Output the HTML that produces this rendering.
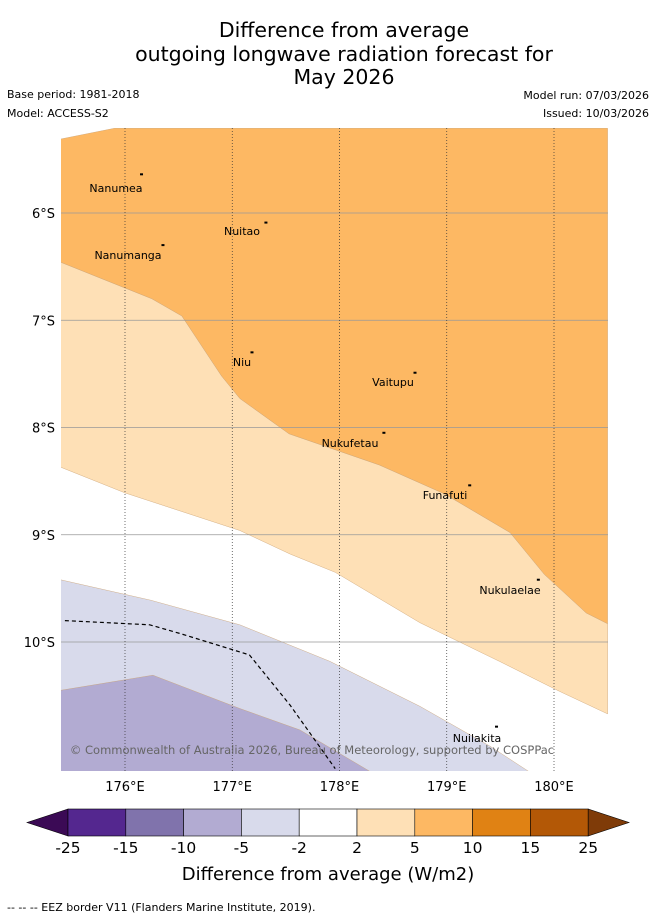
<!DOCTYPE html>
<html><head><meta charset="utf-8"><style>
body{margin:0;background:#fff;font-family:"DejaVu Sans","Liberation Sans",sans-serif}
</style></head><body>
<svg width="655" height="919" viewBox="0 0 655 919" xmlns="http://www.w3.org/2000/svg" font-family="DejaVu Sans, Liberation Sans, sans-serif">
<g text-anchor="middle" font-size="20.5" fill="#000">
<text x="344" y="37">Difference from average</text>
<text x="344" y="61">outgoing longwave radiation forecast for</text>
<text x="344" y="84">May 2026</text>
</g>
<g font-size="11">
<text x="7" y="98">Base period: 1981-2018</text>
<text x="7" y="117">Model: ACCESS-S2</text>
<text x="649" y="99" text-anchor="end">Model run: 07/03/2026</text>
<text x="649" y="117" text-anchor="end">Issued: 10/03/2026</text>
</g>
<defs><clipPath id="mc"><rect x="61" y="128" width="547" height="643"/></clipPath></defs>
<g id="map" clip-path="url(#mc)"></g>
<g id="axes"></g>
<text x="312" y="754" text-anchor="middle" font-size="11.5" fill="#666">© Commonwealth of Australia 2026, Bureau of Meteorology, supported by COSPPac</text>
<g id="cbar"></g>
<text x="328" y="880" text-anchor="middle" font-size="18">Difference from average (W/m2)</text>
<text x="7" y="911" font-size="11">-- -- -- EEZ border V11 (Flanders Marine Institute, 2019).</text>
</svg>
<script>
const lonTicks=[176,177,178,179,180];
const latTicks=[6,7,8,9,10];
const cbLevels=[-25,-15,-10,-5,-2,2,5,10,15,25];
const cbColors=["#54278f","#8073ac","#b2abd2","#d8daeb","#ffffff","#fee0b6","#fdb863","#e08214","#b35806"];
// contour polygons in [lon, latS]
const zoneOrange=[[175.4,5.31],[175.9,5.21],[180.5,5.21],[180.5,9.83],[180.3,9.73],[179.91,9.37],[179.59,8.98],[178.98,8.62],[178.37,8.35],[177.53,8.06],[177.07,7.73],[176.9,7.52],[176.53,6.96],[176.25,6.8],[175.4,6.46]];
const zoneLight=[[175.4,6.46],[176.25,6.8],[176.53,6.96],[176.9,7.52],[177.07,7.73],[177.53,8.06],[178.37,8.35],[178.98,8.62],[179.59,8.98],[179.91,9.37],[180.3,9.73],[180.5,9.83],[180.5,10.67],[180.05,10.46],[179.49,10.18],[178.75,9.82],[177.96,9.35],[177.54,9.18],[177.07,8.96],[176.0,8.61],[175.4,8.37]];
const zoneLav=[[175.4,9.42],[176.24,9.61],[177.07,9.84],[177.91,10.18],[178.75,10.6],[179.4,10.97],[179.77,11.21],[175.4,11.21]];
const zoneLav2=[[175.4,10.45],[176.26,10.31],[177.07,10.62],[177.63,10.82],[178.29,11.21],[175.4,11.21]];
const eez=[[175.44,9.8],[176.23,9.84],[176.51,9.92],[177.16,10.12],[177.54,10.59],[177.96,11.18]];
const islands=[["Nanumea",175.916,5.767,176.14,5.63],["Nuitao",177.091,6.168,177.3,6.08],["Nanumanga",176.028,6.392,176.34,6.29],["Niu",177.091,7.389,177.17,7.29],["Vaitupu",178.499,7.576,178.69,7.48],["Nukufetau",178.098,8.145,178.4,8.04],["Funafuti",178.984,8.629,179.2,8.53],["Nukulaelae",179.59,9.515,179.84,9.41],["Nuilakita",179.282,10.895,179.45,10.78]];
const NS="http://www.w3.org/2000/svg";
const X=lon=>125+(lon-176)*107.25, Y=lat=>213+(lat-6)*107.25;
function mk(t,a,p){const e=document.createElementNS(NS,t);for(const k in a)e.setAttribute(k,a[k]);p.appendChild(e);return e;}
const map=document.getElementById('map'),ax=document.getElementById('axes'),cb=document.getElementById('cbar');
const pts=arr=>arr.map(p=>X(p[0]).toFixed(1)+','+Y(p[1]).toFixed(1)).join(' ');
[[zoneOrange,"#fdb863","zone-5-10"],[zoneLight,"#fee0b6","zone-2-5"],[zoneLav,"#d8daeb","zone-m2-m5"],[zoneLav2,"#b2abd2","zone-m5-m10"]].forEach(z=>{
 const e=mk('polygon',{points:pts(z[0]),fill:z[1],stroke:"#c9a070","stroke-width":0.4},map);
 
 
});
latTicks.forEach(l=>{const e=mk('line',{x1:61,x2:608,y1:Y(l),y2:Y(l),stroke:"#999","stroke-width":0.8},map);
 
 
 const t=mk('text',{x:55,y:Y(l)+5,"text-anchor":"end","font-size":13},ax);t.textContent=l+"°S";
 
 });
lonTicks.forEach(l=>{const e=mk('line',{x1:X(l),x2:X(l),y1:128,y2:771,stroke:"#333","stroke-width":0.7,"stroke-dasharray":"1,2"},map);
 
 
 const t=mk('text',{x:X(l),y:791,"text-anchor":"middle","font-size":13},ax);t.textContent=l+"°E";
 
 });
const ez=mk('polyline',{points:pts(eez),fill:"none",stroke:"#000","stroke-width":1.2,"stroke-dasharray":"4,3"},map);


islands.forEach(i=>{const t=mk('text',{x:X(i[1]),y:Y(i[2])+4,"text-anchor":"middle","font-size":11},map);t.textContent=i[0];
 
 
 const d=mk('rect',{x:X(i[3]),y:Y(i[4]),width:3,height:2,fill:"#000"},map);
 
 });
// colorbar
const cx0=68,cw=57.8,cy=809,ch=27;
const lt=mk('polygon',{points:`27,${cy+ch/2} ${cx0},${cy} ${cx0},${cy+ch}`,fill:"#3b0a55",stroke:"#000","stroke-width":0.6},cb);


cbColors.forEach((c,i)=>{const r=mk('rect',{x:cx0+i*cw,y:cy,width:cw,height:ch,fill:c,stroke:"#000","stroke-width":0.6},cb);
 
 });
const xe=cx0+cbColors.length*cw;
const rt=mk('polygon',{points:`${xe},${cy} 629,${cy+ch/2} ${xe},${cy+ch}`,fill:"#7f3b08",stroke:"#000","stroke-width":0.6},cb);


cbLevels.forEach((v,i)=>{const t=mk('text',{x:cx0+i*cw,y:853,"text-anchor":"middle","font-size":15.5},cb);t.textContent=v;
 
 });
</script>
</body></html>
